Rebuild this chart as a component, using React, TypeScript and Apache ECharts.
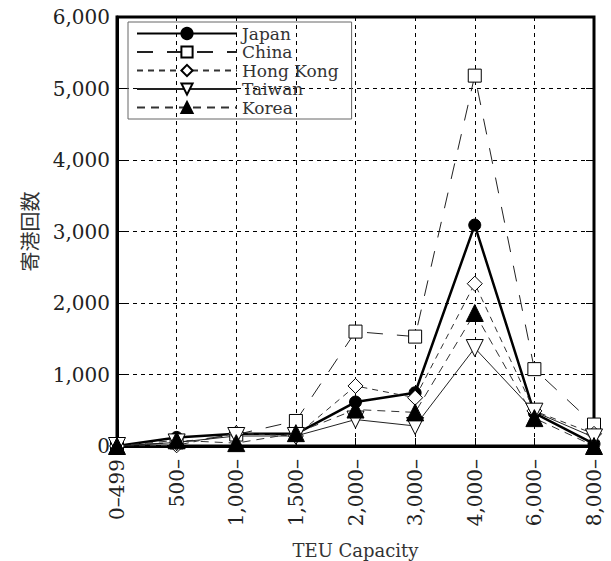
import React, { useEffect, useRef } from "react";
import * as echarts from "echarts";

const categories = ["0–499", "500–", "1,000–", "1,500–", "2,000–", "3,000–", "4,000–", "6,000–", "8,000–"];
const japan = [0, 120, 170, 170, 615, 745, 3090, 460, 30];
const china = [0, 50, 160, 350, 1600, 1530, 5180, 1075, 300];
const hongKong = [0, 10, 180, 140, 840, 675, 2270, 490, 170];
const taiwan = [0, 50, 140, 140, 370, 280, 1370, 480, 120];
const korea = [0, 80, 40, 180, 510, 470, 1860, 390, 0];
const yTicks = [0, 1000, 2000, 3000, 4000, 5000, 6000];

const SERIF = "'DejaVu Serif', 'Liberation Serif', serif";

export default function App() {
  const ref = useRef<HTMLDivElement>(null);
  useEffect(() => {
    if (!ref.current) return;
    const chart = echarts.init(ref.current, undefined, { renderer: "svg" });
    const mk = (
      name: string,
      data: number[],
      symbol: string,
      size: number,
      fill: string,
      width: number,
      type: any,
      color: string,
      rotate = 0
    ) => ({
      name,
      type: "line",
      data,
      symbol,
      symbolSize: size,
      symbolRotate: rotate,
      showSymbol: true,
      lineStyle: { color, width, type },
      itemStyle: { color: fill, borderColor: "#000", borderWidth: 1 },
      z: 3,
    });
    chart.setOption({
      animation: false,
      backgroundColor: "#fff",
      textStyle: { fontFamily: SERIF },
      grid: {
        left: 117,
        right: 17,
        top: 17,
        bottom: 115,
        show: true,
        borderColor: "#000",
        borderWidth: 3,
        outerBoundsMode: "none",
        containLabel: false,
      },
      legend: {
        orient: "vertical",
        left: 128,
        top: 22,
        itemWidth: 100,
        itemHeight: 14,
        itemGap: 1.5,
        padding: [3, 13, 3, 8],
        borderColor: "#666",
        borderWidth: 1,
        textStyle: { fontFamily: SERIF, fontSize: 17, lineHeight: 15, color: "#333" },
        data: ["Japan", "China", "Hong Kong", "Taiwan", "Korea"],
      },
      xAxis: [
        {
          type: "category",
          data: categories,
          boundaryGap: false,
          axisLine: { lineStyle: { color: "#000", width: 3 } },
          axisTick: { inside: true, length: 8, lineStyle: { color: "#000" } },
          axisLabel: {
            rotate: 90,
            interval: 0,
            fontFamily: SERIF,
            fontSize: 20,
            color: "#222",
            margin: 13,
          },
          splitLine: { show: true, lineStyle: { color: "#000", type: [4, 4], width: 1 } },
          name: "TEU Capacity",
          nameLocation: "middle",
          nameGap: 95,
          nameTextStyle: { fontFamily: SERIF, fontSize: 18, color: "#333" },
        },
      ],
      yAxis: [
        {
          type: "value",
          min: 0,
          max: 6000,
          interval: 1000,
          axisLine: { show: true, lineStyle: { color: "#000", width: 3 } },
          axisTick: { show: true, inside: true, length: 8, lineStyle: { color: "#000" } },
          axisLabel: {
            fontFamily: SERIF,
            fontSize: 20,
            color: "#222",
            margin: 7,
            formatter: (v: number) => (yTicks.includes(v) ? v.toLocaleString("en-US") : ""),
          },
          splitLine: { show: true, lineStyle: { color: "#000", type: [4, 4], width: 1 } },
          name: "寄港回数",
          nameLocation: "middle",
          nameGap: 78,
          nameTextStyle: { fontFamily: "'Noto Sans CJK JP', sans-serif", fontSize: 20, color: "#333" },
        },
        {
          type: "value",
          position: "right",
          min: 0,
          max: 6000,
          interval: 1000,
          axisLine: { show: false },
          axisTick: { show: true, inside: true, length: 8, lineStyle: { color: "#000" } },
          axisLabel: { show: false },
          splitLine: { show: false },
        },
      ],
      series: [
        mk("Japan", japan, "circle", 12, "#000", 2.5, "solid", "#000"),
        mk("China", china, "rect", 13, "#fff", 1, [16, 14], "#222"),
        mk("Hong Kong", hongKong, "diamond", 15, "#fff", 1, [6, 5], "#333"),
        mk("Taiwan", taiwan, "triangle", 17, "#fff", 1, "solid", "#222", 180),
        mk("Korea", korea, "triangle", 17, "#000", 1, [8, 6], "#333"),
      ],
    });
    return () => chart.dispose();
  }, []);
  return (
    <div
      ref={ref}
      style={{ position: "absolute", left: 0, top: 0, width: 611, height: 561 }}
    />
  );
}
